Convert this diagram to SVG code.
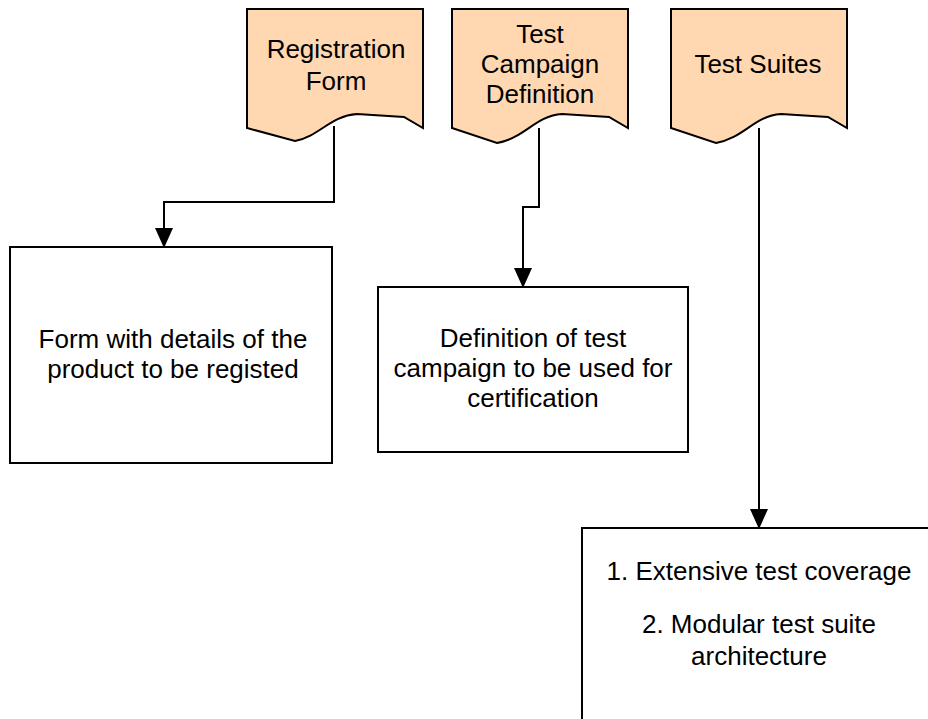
<svg xmlns="http://www.w3.org/2000/svg" width="928" height="719" viewBox="0 0 928 719">
<style>
.doc{fill:#FFD8B2;stroke:#000;stroke-width:2;stroke-linejoin:miter}
.box{fill:#fff;stroke:#000;stroke-width:2}
.conn{fill:none;stroke:#000;stroke-width:2}
text{font-family:"Liberation Sans",Arial,sans-serif;font-size:26px;fill:#000;text-anchor:middle}
</style>
<defs>
<marker id="arr" markerUnits="userSpaceOnUse" markerWidth="20" markerHeight="20" refX="19" refY="10" orient="auto" viewBox="0 0 20 20">
<path d="M0,1 L20,10 L0,19 Z" fill="#000"/>
</marker>
</defs>
<rect width="928" height="719" fill="#fff"/>
<g id="connectors">
<path class="conn" d="M334,126 V202 H164 V247" marker-end="url(#arr)"/>
<path class="conn" d="M539,128 V207 H523 V287" marker-end="url(#arr)"/>
<path class="conn" d="M759,128 V528" marker-end="url(#arr)"/>
</g>
<g id="registration-form">
<path class="doc" d="M247,9 H423 V128 L404,117 L357,114 C330,116 320,136 295,141 L247,128 Z"/>
<text x="336" y="58">Registration</text>
<text x="336" y="90">Form</text>
</g>
<g id="test-campaign-definition">
<path class="doc" d="M452,9 H628 V128 L609,117 L562,114 C535,116 525,138 497,143 L452,128 Z"/>
<text x="540" y="43">Test</text>
<text x="540" y="73">Campaign</text>
<text x="540" y="103">Definition</text>
</g>
<g id="test-suites">
<path class="doc" d="M671,9 H847 V128 L828,117 L781,114 C754,116 744,138 716,143 L671,128 Z"/>
<text x="758" y="73">Test Suites</text>
</g>
<g id="form-details">
<rect class="box" x="10" y="247" width="322" height="216"/>
<text x="173" y="348">Form with details of the</text>
<text x="173" y="378">product to be registed</text>
</g>
<g id="campaign-definition">
<rect class="box" x="378" y="287" width="310" height="165"/>
<text x="533" y="347">Definition of test</text>
<text x="533" y="377">campaign to be used for</text>
<text x="533" y="407">certification</text>
</g>
<g id="test-suites-features">
<rect class="box" x="582" y="528" width="356" height="200"/>
<text x="759" y="580">1. Extensive test coverage</text>
<text x="759" y="633">2. Modular test suite</text>
<text x="759" y="665">architecture</text>
</g>
</svg>
